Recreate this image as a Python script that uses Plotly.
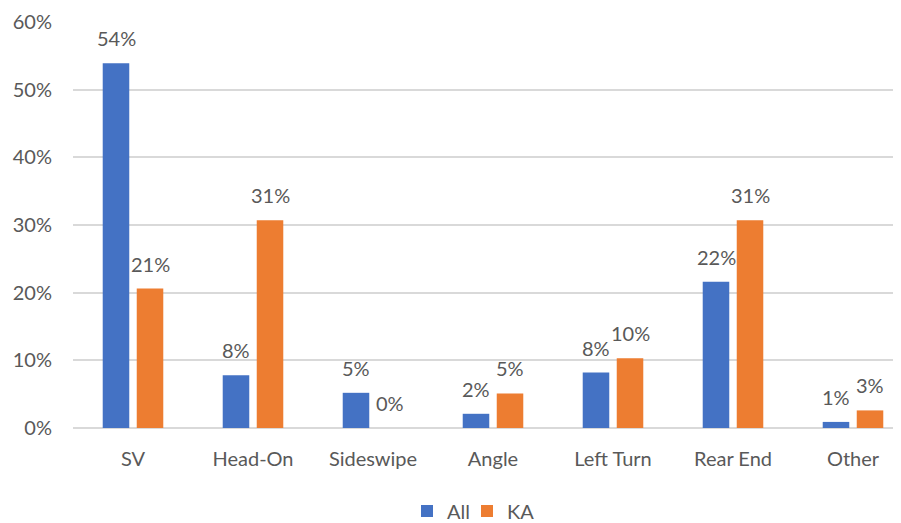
import plotly.graph_objects as go

categories = ["SV", "Head-On", "Sideswipe", "Angle", "Left Turn", "Rear End", "Other"]
all_values = [0.539, 0.078, 0.052, 0.021, 0.082, 0.216, 0.009]
ka_values = [0.206, 0.307, 0.0, 0.051, 0.103, 0.307, 0.026]
y_ticks = [0, 0.1, 0.2, 0.3, 0.4, 0.5, 0.6]
y_tick_labels = ["0%", "10%", "20%", "30%", "40%", "50%", "60%"]

BLUE = "#4472C4"
ORANGE = "#ED7D31"
TEXT = "#595959"
GRID = "#D9D9D9"
FONT = "Lato"

# The page places the figure 8px from the top-left corner (default body margin),
# so the figure is 8px smaller and the margins are shifted accordingly.
W, H = 893, 515

fig = go.Figure()
fig.add_trace(go.Bar(name="All", x=categories, y=all_values, marker_color=BLUE,
                     marker_line_width=0, legendwidth=15))
fig.add_trace(go.Bar(name="KA", x=categories, y=ka_values, marker_color=ORANGE,
                     marker_line_width=0, legendwidth=40))

annotations = []
for series, shift in ((all_values, -17), (ka_values, 17)):
    for c, v in zip(categories, series):
        annotations.append(dict(
            x=c, y=v, xref="x", yref="y", text=f"{round(v*100):.0f}%",
            showarrow=False, xanchor="center", yanchor="bottom",
            xshift=shift, yshift=11,
            font=dict(family=FONT, size=20, color=TEXT)))

fig.update_layout(
    width=W, height=H,
    margin=dict(l=65, r=0, t=14, b=94.5, autoexpand=False),
    paper_bgcolor="white", plot_bgcolor="white",
    barmode="group", bargap=0.433, bargroupgap=0.22,
    font=dict(family=FONT, size=20, color=TEXT),
    annotations=annotations,
    showlegend=True,
    legend=dict(orientation="h", x=399 / W, xref="container", xanchor="left",
                y=1 - 503 / H, yref="container", yanchor="middle",
                font=dict(family=FONT, size=20, color=TEXT), itemwidth=30,
                traceorder="normal", bgcolor="rgba(0,0,0,0)"),
    xaxis=dict(range=[-0.5, 6.4], showgrid=False, showline=False, ticks="",
               tickfont=dict(family=FONT, size=20, color=TEXT), ticklabelstandoff=17,
               automargin=False, fixedrange=True),
    yaxis=dict(range=[0, 0.6], tickvals=y_ticks, ticktext=y_tick_labels,
               showgrid=True, gridcolor=GRID, gridwidth=1.5,
               zeroline=True, zerolinecolor=GRID, zerolinewidth=1.5,
               showline=False, ticks="",
               tickfont=dict(family=FONT, size=20, color=TEXT), ticklabelstandoff=20,
               automargin=False, fixedrange=True),
)

fig.write_html("out.html")
